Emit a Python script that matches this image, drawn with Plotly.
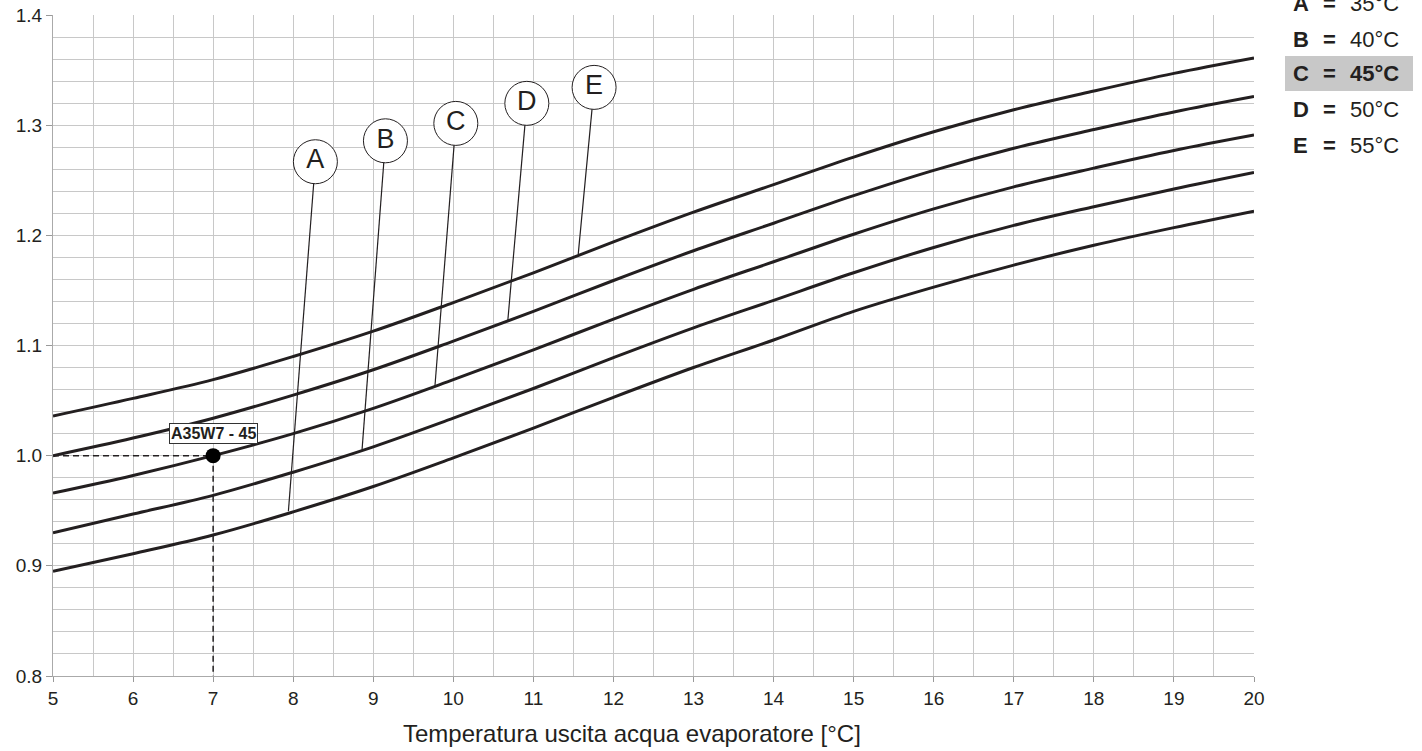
import plotly.graph_objects as go

# ---- data ----
x_vals = [5, 6, 7, 8, 9, 10, 11, 12, 13, 14, 15, 16, 17, 18, 19, 20]
curve_A = [0.895, 0.911, 0.928, 0.949, 0.972, 0.998, 1.025, 1.053, 1.080, 1.105, 1.131, 1.153, 1.173, 1.191, 1.207, 1.222]
curve_B = [0.930, 0.947, 0.964, 0.985, 1.008, 1.034, 1.061, 1.089, 1.116, 1.141, 1.166, 1.189, 1.209, 1.226, 1.242, 1.257]
curve_C = [0.966, 0.982, 1.000, 1.020, 1.043, 1.069, 1.096, 1.124, 1.151, 1.176, 1.201, 1.224, 1.244, 1.261, 1.277, 1.291]
curve_D = [1.000, 1.016, 1.034, 1.055, 1.078, 1.104, 1.131, 1.159, 1.186, 1.211, 1.236, 1.259, 1.279, 1.296, 1.312, 1.326]
curve_E = [1.036, 1.052, 1.069, 1.090, 1.113, 1.139, 1.166, 1.194, 1.221, 1.246, 1.271, 1.294, 1.314, 1.331, 1.347, 1.361]
curves = {"A": curve_A, "B": curve_B, "C": curve_C, "D": curve_D, "E": curve_E}

callout_labels = ["A", "B", "C", "D", "E"]
callout_anchor_x = [7.94, 8.86, 9.77, 10.68, 11.56]
callout_anchor_y = [0.9495, 1.0055, 1.063, 1.1223, 1.1829]
callout_circle_x = [8.277, 9.152, 10.031, 10.918, 11.758]
callout_circle_y = [1.2668, 1.2858, 1.3016, 1.3198, 1.3343]

point_x = 7
point_y = 1.0
point_label = "A35W7 - 45"

legend_letters = ["A", "B", "C", "D", "E"]
legend_values = ["35°C", "40°C", "45°C", "50°C", "55°C"]
highlight = "C"

x_title = "Temperatura uscita acqua evaporatore [°C]"

FONT = "Liberation Sans, Arial, sans-serif"
INK = "#231f20"
GRID = "#c8c8c8"

W, H = 1422, 751
L, R, T, B = 53, 168, 15, 75
PW, PH = W - L - R, H - T - B


def px(xp):
    return (xp - L) / PW


def py(yp):
    return 1 - (yp - T) / PH


fig = go.Figure()

for name, ys in curves.items():
    fig.add_trace(go.Scatter(x=x_vals, y=ys, mode="lines",
                             line=dict(color=INK, width=3, shape="spline", smoothing=1.0),
                             hoverinfo="skip", showlegend=False))

# dashed reading lines
fig.add_trace(go.Scatter(x=[x_vals[0], point_x], y=[point_y, point_y], mode="lines",
                         line=dict(color=INK, width=1.5, dash="6px,4px"), showlegend=False))
fig.add_trace(go.Scatter(x=[point_x, point_x], y=[point_y, 0.8], mode="lines",
                         line=dict(color=INK, width=1.5, dash="6px,4px"), showlegend=False))
fig.add_trace(go.Scatter(x=[point_x], y=[point_y], mode="markers",
                         marker=dict(color="black", size=15), showlegend=False))

# callout leader lines
for ax_, ay_, cx_, cy_ in zip(callout_anchor_x, callout_anchor_y, callout_circle_x, callout_circle_y):
    fig.add_trace(go.Scatter(x=[ax_, cx_], y=[ay_, cy_], mode="lines",
                             line=dict(color=INK, width=1.2), showlegend=False))

fig.add_trace(go.Scatter(x=callout_circle_x, y=callout_circle_y, mode="markers+text",
                         text=callout_labels, textposition="middle center",
                         textfont=dict(family=FONT, size=27, color=INK),
                         marker=dict(size=44, color="white", line=dict(color=INK, width=1)),
                         showlegend=False))

fig.add_annotation(x=point_x, y=1.02, xref="x", yref="y", text="<b>" + point_label + "</b>",
                   showarrow=False, xanchor="center", yanchor="middle",
                   font=dict(family=FONT, size=16, color=INK),
                   bgcolor="white", bordercolor="#333333", borderwidth=1, borderpad=1)

# legend block
row_y = [3, 39, 73.5, 110, 146]
for letter, val, ry in zip(legend_letters, legend_values, row_y):
    bold = letter == highlight
    if bold:
        fig.add_shape(type="rect", xref="paper", yref="paper",
                      x0=px(1285), x1=px(1413), y0=py(91), y1=py(56),
                      fillcolor="#c8c8c8", line=dict(width=0), layer="below")
    fig.add_annotation(x=px(1291), y=py(ry), xref="paper", yref="paper",
                       xanchor="left", yanchor="middle",
                       text="<b>" + letter + "</b>", showarrow=False,
                       font=dict(family=FONT, size=22, color=INK))
    fig.add_annotation(x=px(1329), y=py(ry), xref="paper", yref="paper",
                       xanchor="center", yanchor="middle",
                       text="<b>=</b>", showarrow=False,
                       font=dict(family=FONT, size=22, color=INK))
    fig.add_annotation(x=px(1348), y=py(ry), xref="paper", yref="paper",
                       xanchor="left", yanchor="middle",
                       text=("<b>" + val + "</b>") if bold else val, showarrow=False,
                       font=dict(family=FONT, size=22, color=INK))

fig.add_annotation(x=px(632), y=py(733), xref="paper", yref="paper", text=x_title,
                   xanchor="center", yanchor="middle",
                   showarrow=False, font=dict(family=FONT, size=24, color=INK))

fig.update_layout(
    width=W, height=H, margin=dict(l=L, r=R, t=T, b=B, autoexpand=False),
    paper_bgcolor="white", plot_bgcolor="white",
    font=dict(family=FONT, color=INK),
    xaxis=dict(range=[5, 20], dtick=1, tick0=5, showgrid=True, gridcolor=GRID, gridwidth=1,
               minor=dict(dtick=0.5, showgrid=True, gridcolor=GRID, gridwidth=1),
               ticks="outside", ticklen=5, tickcolor="#999999", automargin=False,
               showline=True, linecolor="#aaaaaa", linewidth=1, zeroline=False,
               tickfont=dict(family=FONT, size=19, color=INK), fixedrange=True),
    yaxis=dict(range=[0.8, 1.4], dtick=0.1, tick0=0.8, tickformat=".1f", showgrid=True,
               gridcolor=GRID, gridwidth=1, automargin=False,
               minor=dict(dtick=0.02, showgrid=True, gridcolor=GRID, gridwidth=1),
               ticks="outside", ticklen=6, tickcolor="#999999",
               showline=True, linecolor="#aaaaaa", linewidth=1, zeroline=False,
               tickfont=dict(family=FONT, size=19, color=INK), fixedrange=True),
)

fig.write_html("out.html")
